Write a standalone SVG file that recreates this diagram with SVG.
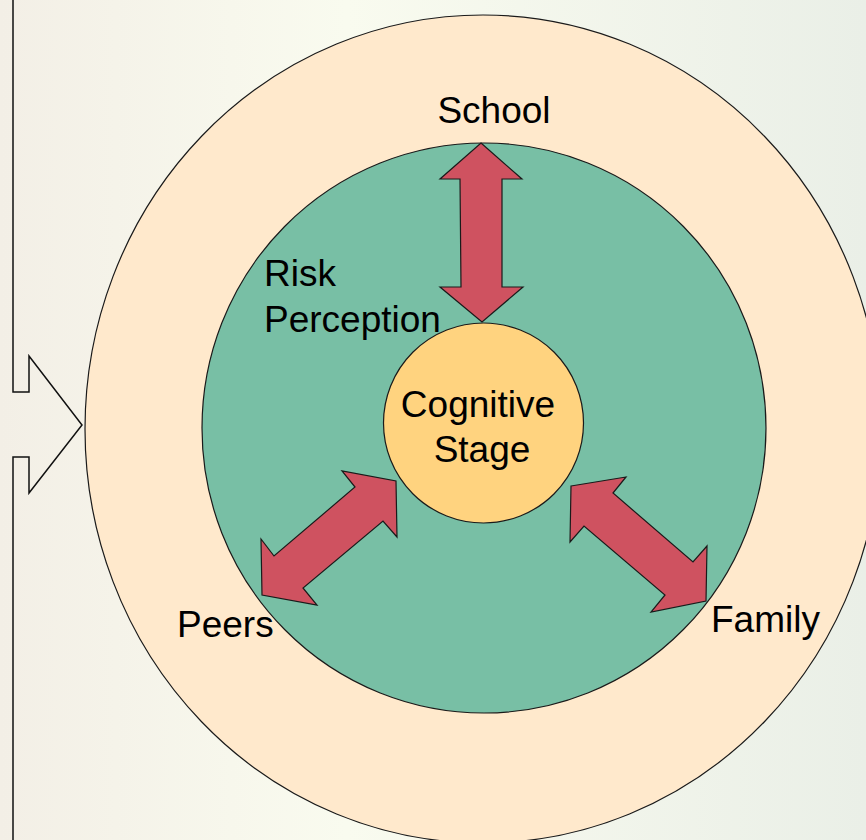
<svg xmlns="http://www.w3.org/2000/svg" width="866" height="840" viewBox="0 0 866 840">
  <defs>
    <linearGradient id="bg" x1="0" y1="0" x2="1" y2="0">
      <stop offset="0" stop-color="#F3EFE6"/>
      <stop offset="0.4" stop-color="#F9FBEF"/>
      <stop offset="1" stop-color="#EAEFE7"/>
    </linearGradient>
    <style>
      .ring { stroke: #1a1a1a; stroke-width: 1.2; }
      .arrow { fill: #CF5260; stroke: #1a1a1a; stroke-width: 1.2; stroke-linejoin: miter; }
      .label { font-family: "Liberation Sans", Arial, sans-serif; font-size: 37px; fill: #000; }
      .frame { fill: none; stroke: #111; stroke-width: 1.5; }
    </style>
  </defs>

  <!-- background -->
  <rect x="0" y="0" width="866" height="840" fill="url(#bg)"/>

  <!-- left frame line with block arrow pointing right -->
  <path class="frame" d="M13,0 V392 H29 V356 L82,425 L29,493 V457 H13 V840"/>

  <!-- outer ring: environment -->
  <g id="outer">
    <ellipse class="ring" cx="483" cy="429" rx="398" ry="414" fill="#FFE9CC"/>
  </g>

  <!-- middle ring: risk perception -->
  <g id="risk-perception">
    <ellipse class="ring" cx="484" cy="428" rx="282" ry="285" fill="#78BFA5"/>
    <text class="label" x="264" y="286">Risk</text>
    <text class="label" x="264" y="332">Perception</text>
  </g>

  <!-- core: cognitive stage -->
  <g id="cognitive-stage">
    <circle class="ring" cx="483.5" cy="423" r="100" fill="#FFD37F"/>
    <text class="label" x="478" y="417" text-anchor="middle">Cognitive</text>
    <text class="label" x="482" y="462" text-anchor="middle">Stage</text>
  </g>

  <!-- two-way arrows between the core and each context -->
  <g id="connectors">
    <polygon class="arrow" points="481,143 522,179 502,179 502,287 523,287 482,322 440,287 461,287 460,179 440,179"/>
    <polygon class="arrow" points="396,481 397,537 383,521 303,588 317,605 262,595 261,539 274,556 355,487 342,471"/>
    <polygon class="arrow" points="571,486 626,477 613,493 693,562 707,546 706,601 651,612 665,595 584,526 570,542"/>
  </g>

  <g id="school">
    <text class="label" x="494" y="123" text-anchor="middle">School</text>
  </g>
  <g id="peers">
    <text class="label" x="177" y="637">Peers</text>
  </g>
  <g id="family">
    <text class="label" x="711" y="632">Family</text>
  </g>
</svg>
